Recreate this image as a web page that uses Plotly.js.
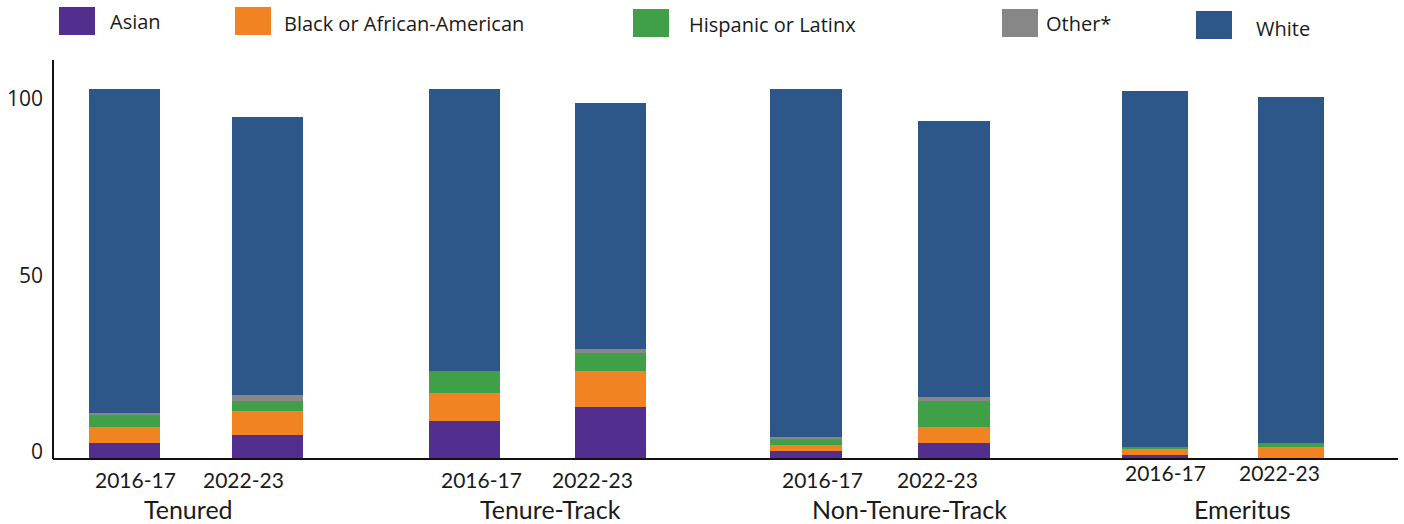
<!DOCTYPE html>
<html>
<head>
<meta charset="utf-8">
<script src="https://cdn.plot.ly/plotly-3.0.1.min.js"></script>
<style>html,body{margin:0;padding:0;background:#fff;}#chart{width:1404px;height:524px;}</style>
</head>
<body>
<div id="chart"></div>
<script>
// ---- data ----
const groups = ['Tenured', 'Tenure-Track', 'Non-Tenure-Track', 'Emeritus'];
const years = ['2016-17', '2022-23'];
const seriesNames = ['Asian', 'Black or African-American', 'Hispanic or Latinx', 'Other*', 'White'];
// order: Tenured 16, 22 | Tenure-Track 16, 22 | Non-Tenure-Track 16, 22 | Emeritus 16, 22
const asian    = [4.6, 6.8, 10.9, 14.8, 2.4, 4.6, 1.1, 0];
const black    = [4.5, 6.8, 7.9, 10.1, 1.6, 4.5, 1.7, 3.4];
const hispanic = [3.4, 2.8, 6.2, 5.2, 1.7, 7.3, 0.6, 1.1];
const other    = [0.5, 1.7, 0, 1.1, 0.6, 1.2, 0, 0];
const white    = [91.8, 78.8, 79.9, 69.6, 98.6, 78.2, 100.8, 98.0];
const yTicks = [0, 50, 100];

// ---- styles ----
const colors = ['#522e8f', '#f28322', '#40a048', '#878787', '#2d5789'];
const series = [asian, black, hispanic, other, white];

// pixel helpers for the plot area (left 53, right 1398, top 60, bottom 459)
const L = 53, R = 1398, T = 60, B = 459;
const px = x => (x - L) / (R - L);
const py = y => (B - y) / (B - T);

const domains = [[53, 339], [391.5, 683.5], [732, 1028], [1087, 1359]];
const labelShift = [[11, -24], [17, -18], [16, -17], [10, -12]];
const yearY = [479, 479, 479, 472];
const groupLabelX = [188, 550, 909, 1242];

const traces = [];
groups.forEach((g, gi) => {
  const ax = gi === 0 ? 'x' : 'x' + (gi + 1);
  series.forEach((s, si) => {
    traces.push({
      type: 'bar',
      x: years,
      y: [s[gi * 2], s[gi * 2 + 1]],
      xaxis: ax, yaxis: 'y',
      name: seriesNames[si],
      marker: {color: colors[si], line: {width: 0}},
      showlegend: false,
      hoverinfo: 'skip'
    });
  });
});

const layout = {
  width: 1404, height: 524,
  margin: {l: L, r: 1404 - R, t: T, b: 524 - B, pad: 0},
  paper_bgcolor: '#fff', plot_bgcolor: '#fff',
  barmode: 'stack', bargap: 0.51,
  showlegend: false,
  font: {family: 'Lato, sans-serif', color: '#1a1a1a'},
  yaxis: {
    range: [0, (B - T) / 3.53], anchor: 'free', position: 0,
    tickvals: yTicks, showticklabels: false,
    showgrid: false, zeroline: false,
    showline: true, linecolor: '#111', linewidth: 2,
    ticks: ''
  },
  shapes: [],
  annotations: []
};

// y tick labels (drawn slightly above their tick, as in the reference)
yTicks.forEach(v => {
  layout.annotations.push({
    xref: 'paper', yref: 'y', x: px(45), y: v, yshift: 8,
    xanchor: 'right', yanchor: 'middle', text: String(v), showarrow: false,
    font: {family: 'Open Sans, sans-serif', size: 21, color: '#1a1a1a'}
  });
});

groups.forEach((g, gi) => {
  const key = gi === 0 ? 'xaxis' : 'xaxis' + (gi + 1);
  const ax = gi === 0 ? 'x' : 'x' + (gi + 1);
  layout[key] = {
    domain: [Math.max(0, px(domains[gi][0])), px(domains[gi][1])],
    range: [-0.5, 1.5], type: 'category', anchor: 'y',
    showticklabels: false, ticks: '', showgrid: false, zeroline: false, showline: false
  };
  years.forEach((yr, yi) => {
    layout.annotations.push({
      xref: ax, yref: 'paper', x: yi, y: py(yearY[gi]),
      xshift: labelShift[gi][yi], xanchor: 'center', yanchor: 'middle',
      text: yr, showarrow: false,
      font: {family: 'Lato, sans-serif', size: 21, color: '#1a1a1a'}
    });
  });
  layout.annotations.push({
    xref: 'paper', yref: 'paper', x: px(groupLabelX[gi]), y: py(509),
    xanchor: 'center', yanchor: 'middle', text: g, showarrow: false,
    font: {family: 'Lato, sans-serif', size: 25, color: '#1a1a1a'}
  });
});

// x baseline across the full plot width
layout.shapes.push({type: 'line', xref: 'paper', yref: 'paper', x0: 0, x1: 1, y0: 0, y1: 0,
  line: {color: '#111', width: 2}});

// manual legend
const legSwatch = [[59, 7], [235, 7], [633, 9], [1002, 9], [1196, 11]];
const legText = [[108, 22], [282, 23], [687, 24], [1044, 23], [1254, 28]];
seriesNames.forEach((n, i) => {
  const [sx, sy] = legSwatch[i];
  layout.shapes.push({type: 'rect', xref: 'paper', yref: 'paper',
    x0: px(sx), x1: px(sx + 36), y0: py(sy + 28), y1: py(sy),
    fillcolor: colors[i], line: {width: 0}});
  layout.annotations.push({xref: 'paper', yref: 'paper', x: px(legText[i][0]), y: py(legText[i][1]),
    xanchor: 'left', yanchor: 'middle', text: n, showarrow: false,
    font: {family: 'Open Sans, sans-serif', size: 20, color: '#1a1a1a'}});
});

Plotly.newPlot('chart', traces, layout, {staticPlot: true, displayModeBar: false});
</script>
</body>
</html>
